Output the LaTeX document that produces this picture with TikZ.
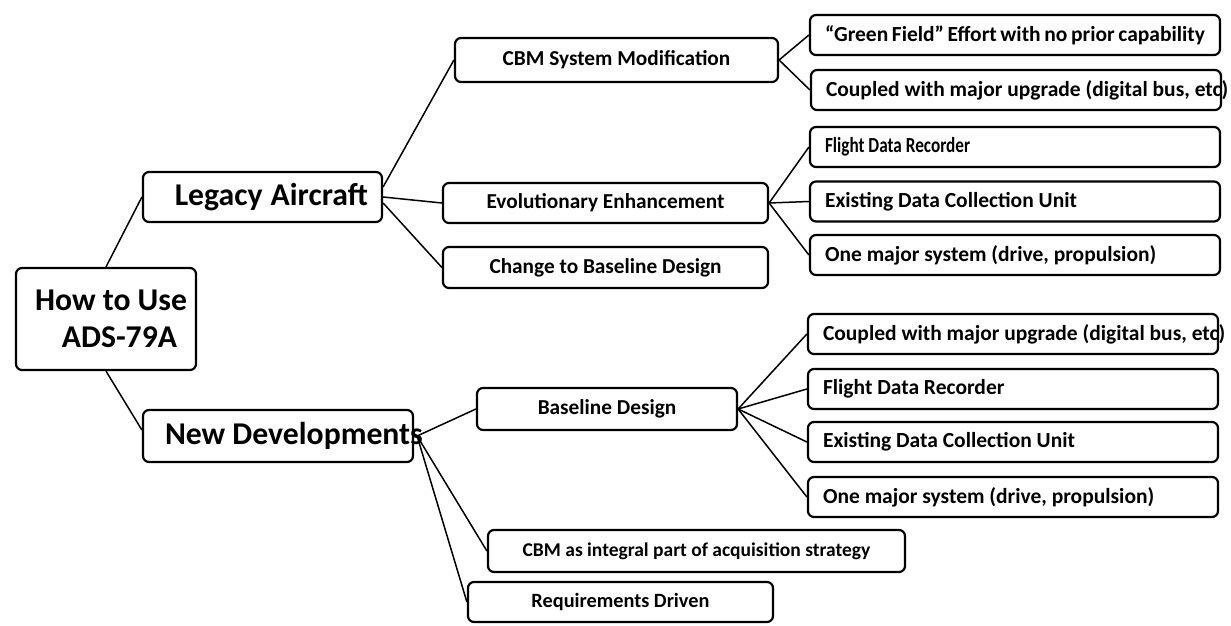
\documentclass[tikz,border=0pt]{standalone}
\usepackage{fontspec}
\setmainfont{Carlito}
\newcommand\fbig{\fontsize{31.7pt}{37pt}\selectfont\bfseries}
\newcommand\fmid{\fontsize{21.3pt}{24pt}\selectfont\bfseries}
\newcommand\fsml{\fontsize{21.5pt}{24pt}\selectfont\bfseries}
\newcommand\ns{\spaceskip=0pt\xspaceskip=0pt\relax}
\begin{document}
\begin{tikzpicture}[x=1pt,y=-1pt,
  box/.style={draw, line width=2.2pt, rounded corners=6pt, inner sep=0pt},
  leaf/.style={box, font=\fsml, minimum width=410pt, minimum height=40pt, text width=380pt, align=left},
  midbox/.style={box, font=\fmid, align=center},
  conn/.style={line width=1.5pt},
]
\useasboundingbox (0,0) rectangle (1231,626);
% level 0
\node[box, font=\fbig, minimum width=180pt, minimum height=102pt, align=center] (root) at (106,319) {\hspace*{10pt}How to Use\\\hspace*{27pt}ADS-79A};
% level 1
\node[box, font=\fbig, minimum width=239pt, minimum height=50pt, text width=211pt, align=right] (leg) at (262.5,197) {\ns Legacy Aircraft};
\node[box, font=\fbig, minimum width=270pt, minimum height=52pt, text width=226pt, align=left] (new) at (278,436) {\ns\mbox{New Developments}};
% level 2 legacy
\node[midbox, minimum width=323pt, minimum height=44pt] (cbm) at (616.5,60) {CBM System Modification};
\node[midbox, minimum width=325pt, minimum height=40pt] (evo) at (605.5,203) {Evolutionary Enhancement};
\node[midbox, minimum width=325pt, minimum height=41pt] (chg) at (605.5,267.5) {Change to Baseline Design};
% level 2 new
\node[midbox, minimum width=260pt, minimum height=42pt] (base) at (607,409) {Baseline Design};
\node[midbox, font=\fontsize{19.5pt}{22pt}\selectfont\bfseries, minimum width=417pt, minimum height=42pt] (integ) at (696.5,551) {CBM as integral part of acquisition strategy};
\node[midbox, font=\fontsize{20.3pt}{22pt}\selectfont\bfseries, minimum width=305pt, minimum height=40pt] (req) at (620.5,602) {Requirements Driven};
% leaves legacy
\node[leaf] (gf) at (1015,35) {\ns “Green Field” Effort with no prior capability};
\node[leaf] (cp1) at (1016,90) {\ns\mbox{Coupled with major upgrade (digital bus, etc)}};
\node[leaf] (fdr1) at (1015,147) {\ns\scalebox{0.8}[1]{Flight Data Recorder}};
\node[leaf] (edc1) at (1015,201.5) {\ns Existing Data Collection Unit};
\node[leaf] (oms1) at (1015,255) {\ns One major system (drive, propulsion)};
% leaves new
\node[leaf] (cp2) at (1013,334) {\ns\mbox{Coupled with major upgrade (digital bus, etc)}};
\node[leaf] (fdr2) at (1013,389) {\ns Flight Data Recorder};
\node[leaf] (edc2) at (1013,442) {\ns Existing Data Collection Unit};
\node[leaf] (oms2) at (1013,497) {\ns One major system (drive, propulsion)};
% connectors
\draw[conn] (root.north) -- (leg.west);
\draw[conn] (root.south) -- ([yshift=6pt]new.west);
\draw[conn] ([yshift=10pt]leg.east) -- (cbm.west);
\draw[conn] (leg.east) -- (evo.west);
\draw[conn] ([yshift=-6pt]leg.east) -- (chg.west);
\draw[conn] (cbm.east) -- (gf.west);
\draw[conn] (cbm.east) -- (cp1.west);
\draw[conn] (evo.east) -- (fdr1.west);
\draw[conn] (evo.east) -- (edc1.west);
\draw[conn] (evo.east) -- (oms1.west);
\draw[conn] ([xshift=3pt]new.east) -- (base.west);
\draw[conn] ([xshift=3pt]new.east) -- (integ.west);
\draw[conn] ([xshift=3pt]new.east) -- (req.west);
\draw[conn] (base.east) -- (cp2.west);
\draw[conn] (base.east) -- (fdr2.west);
\draw[conn] (base.east) -- (edc2.west);
\draw[conn] (base.east) -- (oms2.west);
\end{tikzpicture}
\end{document}
